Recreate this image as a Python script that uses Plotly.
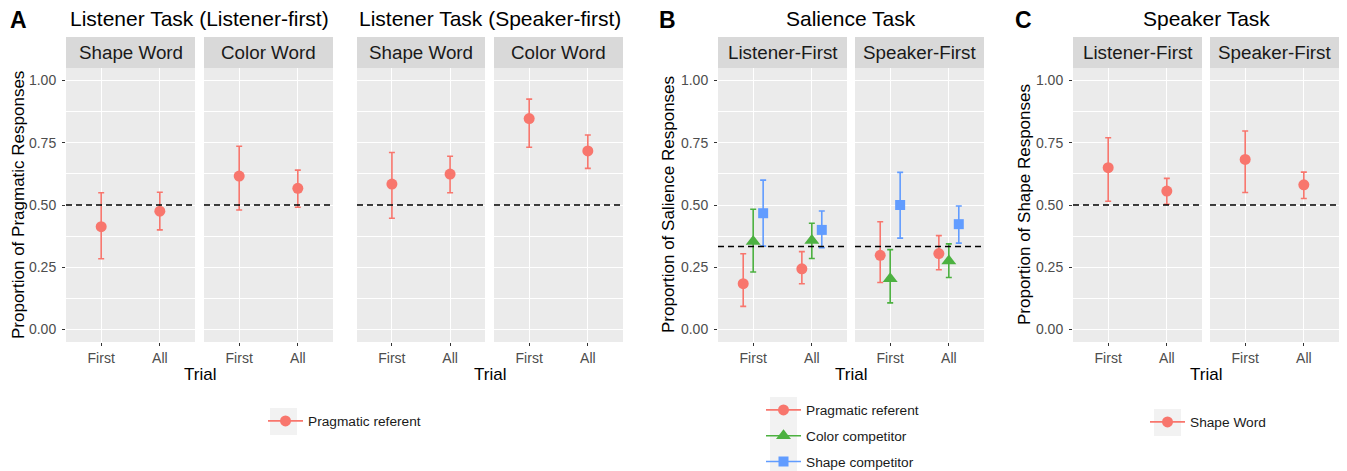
import plotly.graph_objects as go

# ---------------- data ----------------
trial_labels = ["First", "All"]
trial_pos = [1, 2]

# Panel A: Listener task, proportion of pragmatic responses
lf_shape_mean = [0.413, 0.475]
lf_shape_lo = [0.284, 0.400]
lf_shape_hi = [0.549, 0.551]
lf_color_mean = [0.616, 0.567]
lf_color_lo = [0.480, 0.491]
lf_color_hi = [0.736, 0.640]
sf_shape_mean = [0.584, 0.624]
sf_shape_lo = [0.447, 0.549]
sf_shape_hi = [0.711, 0.696]
sf_color_mean = [0.847, 0.717]
sf_color_lo = [0.732, 0.647]
sf_color_hi = [0.925, 0.781]

# Panel B: Salience task
sal_lf_prag_mean = [0.184, 0.244]
sal_lf_prag_lo = [0.093, 0.184]
sal_lf_prag_hi = [0.304, 0.313]
sal_lf_color_mean = [0.353, 0.357]
sal_lf_color_lo = [0.231, 0.285]
sal_lf_color_hi = [0.483, 0.427]
sal_lf_shape_mean = [0.467, 0.400]
sal_lf_shape_lo = [0.335, 0.329]
sal_lf_shape_hi = [0.600, 0.476]
sal_sf_prag_mean = [0.298, 0.305]
sal_sf_prag_lo = [0.189, 0.240]
sal_sf_prag_hi = [0.433, 0.377]
sal_sf_color_mean = [0.204, 0.275]
sal_sf_color_lo = [0.107, 0.209]
sal_sf_color_hi = [0.321, 0.344]
sal_sf_shape_mean = [0.500, 0.423]
sal_sf_shape_lo = [0.367, 0.347]
sal_sf_shape_hi = [0.631, 0.496]

# Panel C: Speaker task
spk_lf_mean = [0.650, 0.556]
spk_lf_lo = [0.515, 0.503]
spk_lf_hi = [0.770, 0.607]
spk_sf_mean = [0.683, 0.581]
spk_sf_lo = [0.550, 0.526]
spk_sf_hi = [0.797, 0.632]

y_ticks = [0, 0.25, 0.5, 0.75, 1.0]
chance_listener = 0.5
chance_salience = 1 / 3
chance_speaker = 0.5

# ---------------- styling / layout ----------------
W, H = 1347, 471
OFF = 8  # page body margin offset
RED, GREEN, BLUE = "#F8766D", "#4CB140", "#619CFF"
FONT = "Liberation Sans, Arial, sans-serif"
TICKCOL = "#4D4D4D"
TICK_SIZE = 14
STRIP_SIZE = 18.8
TITLE_SIZE = 21
AXTITLE_SIZE = 17
LEG_SIZE = 13.7


def fx(p):
    return (p - OFF) / W


def fy(p):
    return 1 - (p - OFF) / H


PANEL_TOP, PANEL_BOTTOM, STRIP_TOP = 68, 342, 37
panels_px = [(66, 195), (204, 333), (357, 485), (494, 623),
             (718, 847), (855, 984), (1073, 1202), (1210, 1339)]
strip_text = ["Shape Word", "Color Word", "Shape Word", "Color Word",
              "Listener-First", "Speaker-First", "Listener-First", "Speaker-First"]
ylabel_panels = {1, 5, 7}
chance = [chance_listener] * 4 + [chance_salience] * 2 + [chance_speaker] * 2

fig = go.Figure()
layout = dict(
    width=W, height=H,
    margin=dict(l=0, r=0, t=0, b=0, autoexpand=False),
    paper_bgcolor="white", plot_bgcolor="#EBEBEB",
    font=dict(family=FONT, size=12, color="black"),
    showlegend=True,
)
shapes = []
annotations = []

for i, (l, r) in enumerate(panels_px, start=1):
    sfx = "" if i == 1 else str(i)
    layout["xaxis" + sfx] = dict(
        domain=[fx(l), fx(r)], anchor="y" + sfx, range=[0.4, 2.6],
        tickvals=trial_pos, ticktext=trial_labels, showgrid=True,
        gridcolor="white", gridwidth=1.1, zeroline=False, showline=False,
        ticks="outside", ticklen=3, tickcolor="#333333", tickwidth=1.1,
        tickfont=dict(family=FONT, size=TICK_SIZE, color=TICKCOL), fixedrange=True,
        automargin=False,
    )
    show_y = i in ylabel_panels
    layout["yaxis" + sfx] = dict(
        domain=[fy(PANEL_BOTTOM), fy(PANEL_TOP)], anchor="x" + sfx,
        range=[-0.05, 1.05], tickvals=y_ticks, tickformat=".2f",
        showticklabels=show_y, ticks="outside" if show_y else "",
        ticklen=3, tickcolor="#333333", tickwidth=1.1, ticklabelstandoff=3,
        tickfont=dict(family=FONT, size=TICK_SIZE, color=TICKCOL),
        showgrid=True, gridcolor="white", gridwidth=1.1, zeroline=False,
        minor=dict(tick0=0.125, dtick=0.25, showgrid=True, gridcolor="white", gridwidth=0.5),
        fixedrange=True, automargin=False,
    )
    # strip
    shapes.append(dict(type="rect", xref="paper", yref="paper",
                       x0=fx(l), x1=fx(r), y0=fy(PANEL_TOP), y1=fy(STRIP_TOP),
                       fillcolor="#D9D9D9", line=dict(width=0), layer="below"))
    annotations.append(dict(text=strip_text[i - 1], xref="paper", yref="paper",
                            x=fx((l + r) / 2), y=fy((STRIP_TOP + PANEL_TOP) / 2),
                            showarrow=False, font=dict(family=FONT, size=STRIP_SIZE, color="#1A1A1A"),
                            xanchor="center", yanchor="middle"))
    # chance line
    shapes.append(dict(type="line", xref="x" + sfx + " domain", yref="y" + sfx,
                       x0=0, x1=1, y0=chance[i - 1], y1=chance[i - 1],
                       line=dict(color="black", width=1.3, dash="6px,4px")))


def add_series(panel, mean, lo, hi, color, symbol, size, offset=0.0):
    sfx = "" if panel == 1 else str(panel)
    fig.add_trace(go.Scatter(
        x=[p + offset for p in trial_pos], y=mean,
        xaxis="x" + sfx, yaxis="y" + sfx, mode="markers",
        marker=dict(color=color, symbol=symbol, size=size, line=dict(width=0)),
        error_y=dict(type="data", symmetric=False,
                     array=[h - m for h, m in zip(hi, mean)],
                     arrayminus=[m - q for m, q in zip(mean, lo)],
                     color=color, thickness=1.6, width=3),
        showlegend=False, hoverinfo="skip",
    ))


DOD = 0.17
add_series(1, lf_shape_mean, lf_shape_lo, lf_shape_hi, RED, "circle", 11)
add_series(2, lf_color_mean, lf_color_lo, lf_color_hi, RED, "circle", 11)
add_series(3, sf_shape_mean, sf_shape_lo, sf_shape_hi, RED, "circle", 11)
add_series(4, sf_color_mean, sf_color_lo, sf_color_hi, RED, "circle", 11)
add_series(5, sal_lf_prag_mean, sal_lf_prag_lo, sal_lf_prag_hi, RED, "circle", 11, -DOD)
add_series(5, sal_lf_color_mean, sal_lf_color_lo, sal_lf_color_hi, GREEN, "triangle-up", 13, 0)
add_series(5, sal_lf_shape_mean, sal_lf_shape_lo, sal_lf_shape_hi, BLUE, "square", 10, DOD)
add_series(6, sal_sf_prag_mean, sal_sf_prag_lo, sal_sf_prag_hi, RED, "circle", 11, -DOD)
add_series(6, sal_sf_color_mean, sal_sf_color_lo, sal_sf_color_hi, GREEN, "triangle-up", 13, 0)
add_series(6, sal_sf_shape_mean, sal_sf_shape_lo, sal_sf_shape_hi, BLUE, "square", 10, DOD)
add_series(7, spk_lf_mean, spk_lf_lo, spk_lf_hi, RED, "circle", 11)
add_series(8, spk_sf_mean, spk_sf_lo, spk_sf_hi, RED, "circle", 11)


# legend entries
def legend_entry(name, color, symbol, size, legend, group):
    fig.add_trace(go.Scatter(
        x=[None], y=[None], mode="lines+markers", name=name,
        marker=dict(color=color, symbol=symbol, size=size),
        line=dict(color=color, width=1.6), legend=legend, legendgroup=group,
        hoverinfo="skip",
    ))


legend_entry("Pragmatic referent", RED, "circle", 11, "legend", "a")
legend_entry("Pragmatic referent", RED, "circle", 11, "legend2", "b1")
legend_entry("Color competitor", GREEN, "triangle-up", 13, "legend2", "b2")
legend_entry("Shape competitor", BLUE, "square", 10, "legend2", "b3")
legend_entry("Shape Word", RED, "circle", 11, "legend3", "c")

leg_common = dict(bgcolor="rgba(0,0,0,0)", font=dict(family=FONT, size=LEG_SIZE, color="#1A1A1A"),
                  xanchor="left", yanchor="middle", traceorder="grouped", itemclick=False,
                  itemdoubleclick=False, itemwidth=35)
layout["legend"] = dict(x=fx(263), y=fy(421), **leg_common)
layout["legend2"] = dict(x=fx(761), y=fy(436), tracegroupgap=5, **leg_common)
layout["legend3"] = dict(x=fx(1145), y=fy(422), **leg_common)

# legend key backgrounds
for (x0, x1, y0, y1) in [(270, 297, 408, 435), (770, 797, 397, 480), (1154, 1181, 409, 436)]:
    shapes.append(dict(type="rect", xref="paper", yref="paper",
                       x0=fx(x0), x1=fx(x1), y0=fy(y1), y1=fy(y0),
                       fillcolor="#F2F2F2", line=dict(width=0), layer="below"))

# titles
for txt, xc in [("Listener Task (Listener-first)", 199), ("Listener Task (Speaker-first)", 490),
                ("Salience Task", 851), ("Speaker Task", 1206)]:
    annotations.append(dict(text=txt, xref="paper", yref="paper", x=fx(xc), y=fy(19),
                            showarrow=False, xanchor="center", yanchor="middle",
                            font=dict(family=FONT, size=TITLE_SIZE, color="black")))
for txt, xc in [("A", 18), ("B", 667), ("C", 1023)]:
    annotations.append(dict(text="<b>" + txt + "</b>", xref="paper", yref="paper", x=fx(xc), y=fy(20),
                            showarrow=False, xanchor="center", yanchor="middle",
                            font=dict(family=FONT, size=23, color="black")))
# x titles
for xc in [200, 490, 851, 1206]:
    annotations.append(dict(text="Trial", xref="paper", yref="paper", x=fx(xc), y=fy(374),
                            showarrow=False, xanchor="center", yanchor="middle",
                            font=dict(family=FONT, size=AXTITLE_SIZE, color="black")))
# y titles
for txt, xc in [("Proportion of Pragmatic Responses", 18), ("Proportion of Salience Responses", 668),
                ("Proportion of Shape Responses", 1024)]:
    annotations.append(dict(text=txt, xref="paper", yref="paper", x=fx(xc), y=fy(205),
                            showarrow=False, xanchor="center", yanchor="middle", textangle=-90,
                            font=dict(family=FONT, size=AXTITLE_SIZE, color="black")))

layout["shapes"] = shapes
layout["annotations"] = annotations
fig.update_layout(**layout)
fig.write_html("out.html")
